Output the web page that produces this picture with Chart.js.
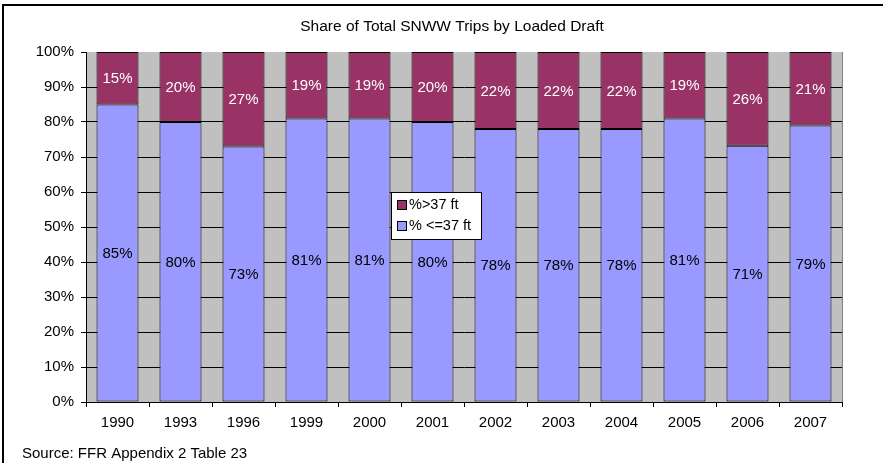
<!DOCTYPE html>
<html>
<head>
<meta charset="utf-8">
<script src="https://cdn.jsdelivr.net/npm/chart.js@4"></script>
<style>
  body { margin: 0; background: #fff; }
  canvas { display: block; }
</style>
</head>
<body>
<canvas id="chart" width="883" height="463"></canvas>
<script>
const years = ['1990', '1993', '1996', '1999', '2000', '2001', '2002', '2003', '2004', '2005', '2006', '2007'];
const under37 = [85, 80, 73, 81, 81, 80, 78, 78, 78, 81, 71, 79];
const over37 = [15, 20, 27, 19, 19, 20, 22, 22, 22, 19, 26, 21];
const yTicks = [0, 10, 20, 30, 40, 50, 60, 70, 80, 90, 100];

const FONT = 'Arial, "Liberation Sans", sans-serif';

// 100% stacked: each year scaled to its own total
const share = (arr) => arr.map((v, i) => v / (under37[i] + over37[i]) * 100);

const frame = {
  id: 'frame',
  beforeDraw(chart) {
    const c = chart.ctx;
    const a = chart.chartArea;
    c.save();
    c.fillStyle = '#fff';
    c.fillRect(0, 0, chart.width, chart.height);
    c.fillStyle = '#c0c0c0';
    c.fillRect(a.left, a.top, a.right - a.left, a.bottom - a.top);
    c.strokeStyle = '#808080';
    c.lineWidth = 1;
    c.beginPath();
    c.moveTo(a.right + 0.5, a.top);
    c.lineTo(a.right + 0.5, a.bottom);
    c.stroke();
    // outer border (right/bottom edges fall outside the picture)
    c.strokeStyle = '#000';
    c.lineWidth = 2;
    c.beginPath();
    c.moveTo(3, chart.height + 5);
    c.lineTo(3, 5);
    c.lineTo(chart.width + 5, 5);
    c.stroke();
    c.fillStyle = '#000';
    c.font = '15.5px ' + FONT;
    c.textAlign = 'center';
    c.textBaseline = 'middle';
    c.fillText('Share of Total SNWW Trips by Loaded Draft', 452, 27);
    c.font = '15px ' + FONT;
    c.textAlign = 'left';
    c.fillText('Source: FFR Appendix 2 Table 23', 22, 454);
    c.restore();
  }
};

const barLabels = {
  id: 'barLabels',
  afterDatasetsDraw(chart) {
    const c = chart.ctx;
    c.save();
    c.font = '15px ' + FONT;
    c.textAlign = 'center';
    c.textBaseline = 'middle';
    const raw = [under37, over37];
    chart.data.datasets.forEach((ds, di) => {
      c.fillStyle = di === 0 ? '#000' : '#fff';
      chart.getDatasetMeta(di).data.forEach((el, i) => {
        c.fillText(raw[di][i] + '%', el.x, (el.y + el.base) / 2 + 1);
      });
    });
    c.restore();
  }
};

const boxLegend = {
  id: 'boxLegend',
  afterDraw(chart) {
    const c = chart.ctx;
    c.save();
    c.fillStyle = '#fff';
    c.fillRect(391, 192, 90, 47);
    c.strokeStyle = '#000';
    c.lineWidth = 1;
    c.strokeRect(391.5, 192.5, 90, 47);
    c.font = '14.5px ' + FONT;
    c.textBaseline = 'middle';
    const items = [chart.data.datasets[1], chart.data.datasets[0]];
    items.forEach((ds, i) => {
      const y = 205 + i * 21;
      c.fillStyle = ds.backgroundColor;
      c.fillRect(397, y - 5, 9, 9);
      c.strokeRect(397.5, y - 4.5, 9, 9);
      c.fillStyle = '#000';
      c.fillText(ds.label, 409, y);
    });
    c.restore();
  }
};

new Chart(document.getElementById('chart'), {
  type: 'bar',
  data: {
    labels: years,
    datasets: [
      {
        label: '% <=37 ft',
        data: share(under37),
        backgroundColor: '#9999ff',
        borderColor: '#000',
        borderWidth: 1,
        borderSkipped: false,
        barPercentage: 0.667,
        categoryPercentage: 1
      },
      {
        label: '%>37 ft',
        data: share(over37),
        backgroundColor: '#993366',
        borderColor: '#000',
        borderWidth: 1,
        borderSkipped: false,
        barPercentage: 0.667,
        categoryPercentage: 1
      }
    ]
  },
  options: {
    responsive: false,
    animation: false,
    layout: { padding: { left: 0, top: 52, right: 41, bottom: 0 } },
    plugins: {
      legend: { display: false },
      title: { display: false },
      tooltip: { enabled: false }
    },
    scales: {
      x: {
        stacked: true,
        afterFit: (s) => { s.height = 61; },
        grid: { drawOnChartArea: false, drawTicks: true, tickLength: 5, tickColor: '#000', offset: true },
        border: { color: '#000' },
        ticks: { color: '#000', font: { family: FONT, size: 15 }, padding: 7, maxRotation: 0 }
      },
      y: {
        stacked: true,
        min: 0,
        max: 100,
        afterFit: (s) => { s.width = 86; },
        afterBuildTicks: (s) => { s.ticks = yTicks.map((v) => ({ value: v })); },
        grid: {
          color: (ctx) => (ctx.tick && ctx.tick.value === 100 ? 'rgba(0,0,0,0)' : '#000'),
          tickColor: '#000',
          tickLength: 5
        },
        border: { color: '#000' },
        ticks: { color: '#000', font: { family: FONT, size: 15 }, padding: 7, callback: (v) => v + '%' }
      }
    }
  },
  plugins: [frame, barLabels, boxLegend]
});
</script>
</body>
</html>
